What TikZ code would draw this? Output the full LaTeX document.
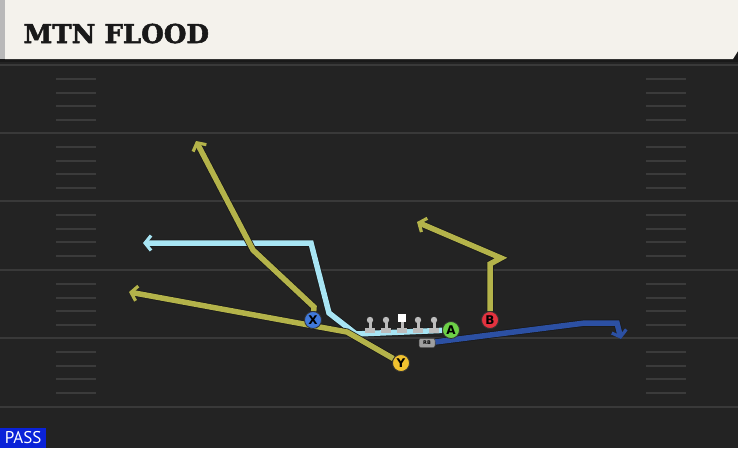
\documentclass[tikz,border=0pt]{standalone}
\usepackage{fontspec}
\setmainfont{DejaVu Sans}
\newfontfamily\titlefont{DejaVu Serif}[BoldFont={DejaVu Serif Bold},BoldFeatures={FakeBold=2}]
\newfontfamily\tagfont{PT Sans}
\usepackage{tikz}
\usetikzlibrary{arrows.meta}

\definecolor{turf}{HTML}{232323}
\definecolor{yard}{HTML}{393939}
\definecolor{hashgray}{HTML}{3B3B3B}
\definecolor{header}{HTML}{F4F2EC}
\definecolor{olive}{HTML}{B4B34A}
\definecolor{skyroute}{HTML}{A8E5F4}
\definecolor{deeproute}{HTML}{2C50A3}
\definecolor{xblue}{HTML}{4079DA}
\definecolor{yyellow}{HTML}{F1C22F}
\definecolor{agreen}{HTML}{6DD147}
\definecolor{bred}{HTML}{E4323F}
\definecolor{passblue}{HTML}{0A22D8}
\definecolor{oline}{HTML}{BDBDBD}

\pgfdeclarelayer{field}
\pgfdeclarelayer{routes}
\pgfsetlayers{field,routes,main}

\begin{document}
\begin{tikzpicture}[x=1pt,y=-1pt,>={Straight Barb[length=6pt,width=15pt,line width=3.2pt]},line cap=round,line join=round]

    \tikzstyle{player}=[circle,draw=black!80,line width=0.8pt,minimum size=17pt,inner sep=0pt,text=black,font=\bfseries\fontsize{12}{12}\selectfont]
    \tikzstyle{rbtag}=[rounded corners=2pt,fill=gray!75,draw=black!70,line width=0.5pt,minimum width=16pt,minimum height=9pt,inner sep=0pt,font=\bfseries\fontsize{5}{5}\selectfont]
    \tikzstyle{yardline}=[draw=yard,line width=2pt]
    \tikzstyle{hash}=[draw=hashgray,line width=1.6pt]
    \tikzstyle{route}=[->,line width=5.5pt,preaction={draw=black!90,line width=7pt}]

    \useasboundingbox (0,0) rectangle (738,448);

    % field and header
    \begin{pgfonlayer}{field}
        \fill[turf] (0,0) rectangle (738,448);
        \foreach \y in {65,133,201,270,338,407}
            \draw[yardline] (0,\y) -- (738,\y);
        \foreach \y in {65,133,201,270,338}
            \foreach \d in {14,28,41,55} {
                \draw[hash] (56,\y+\d) -- (96,\y+\d);
                \draw[hash] (646,\y+\d) -- (686,\y+\d);
            }
        \fill[black!90] (0,0) rectangle (738,62);
        \fill[header] (5,0) -- (738,0) -- (738,51) -- (733,59) -- (5,59) -- cycle;
        \fill[gray!55] (0,0) rectangle (5,59);
    \end{pgfonlayer}

    \node[anchor=base west,text=black!90,font=\titlefont\bfseries\fontsize{26}{26}\selectfont] (title) at (20,43) {MTN FLOOD};

    % players
    \node[player,fill=xblue]   (X)  at (313,320) {X};
    \node[player,fill=yyellow] (Y)  at (401,363) {Y};
    \node[player,fill=agreen]  (A)  at (451,330) {A};
    \node[player,fill=bred]    (B)  at (490,320) {B};
    \node[rbtag]               (RB) at (427,343) {RB};

    % offensive line
    \foreach \x in {370,386,418,434} {
        \fill[oline] (\x-1.5,320) rectangle (\x+1.5,330);
        \fill[oline] (\x-5,328) rectangle (\x+5,333);
        \fill[oline] (\x,320) circle (3.2);
    }
    \fill[oline] (400.5,320) rectangle (403.5,330);
    \fill[oline] (397,328) rectangle (407,333);
    \fill[white] (398,314) rectangle (406,322);

    % route points
    \coordinate (xstem)   at (314,307);
    \coordinate (xbend)   at (253,250);
    \coordinate (xtip)    at (196,141);
    \coordinate (ybend)   at (347,332);
    \coordinate (ytip)    at (129,292);
    \coordinate (bup)     at (490,264);
    \coordinate (bknee)   at (501,258);
    \coordinate (btip)    at (417,222);
    \coordinate (aline)   at (356,334);
    \coordinate (acut)    at (329,313);
    \coordinate (acorner) at (311,243);
    \coordinate (atip)    at (143,243);
    \coordinate (rbout)   at (585,323);
    \coordinate (rbturn)  at (617,323);
    \coordinate (rbtip)   at (621,339);

    \begin{pgfonlayer}{routes}
        \draw[route,draw=skyroute]  (A) -- (aline) -- (acut) -- (acorner) -- (atip);
        \draw[route,draw=deeproute] (RB) -- (rbout) -- (rbturn) -- (rbtip);
        \draw[route,draw=olive]     (Y) -- (ybend) -- (ytip);
        \draw[route,draw=olive]     (X) -- (xstem) -- (xbend) -- (xtip);
        \draw[route,draw=olive]     (B) -- (bup) -- (bknee) -- (btip);
    \end{pgfonlayer}

    \node[anchor=south west,fill=passblue,text=white,inner sep=0pt,minimum width=46pt,minimum height=20pt,font=\tagfont\fontsize{17}{17}\selectfont] (pass) at (0,448) {PASS};

\end{tikzpicture}
\end{document}
